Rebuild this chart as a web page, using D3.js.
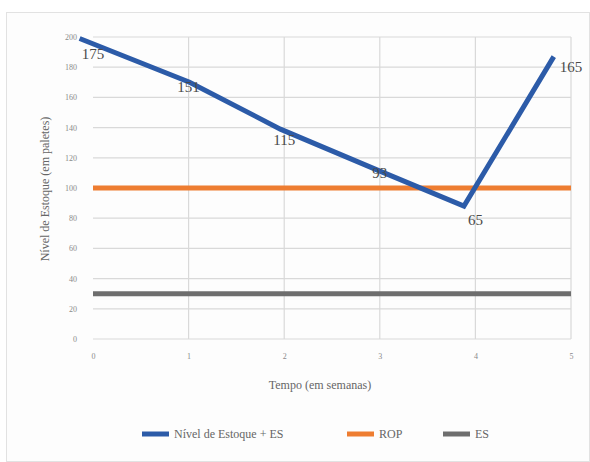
<!DOCTYPE html>
<html><head><meta charset="utf-8">
<script src="https://cdn.jsdelivr.net/npm/d3@7"></script>
<style>body{margin:0;background:#fff}svg{display:block}text{font-family:'Liberation Serif','Times New Roman',serif}</style>
</head><body>
<svg id="c" width="590" height="462"></svg>
<script>
// Data
const xValues = [-0.14, 1.01, 1.96, 2.97, 3.88, 4.82];
const estoqueES = [199, 170, 139, 112, 88, 187];
const dataLabels = ["175", "151", "115", "93", "65", "165"];
const labelX = [0, 1, 2, 3, 4, 5];
const labelY = [189, 167, 132, 110, 79, 180];
const ropValue = 100;
const esValue = 30;
const xTicks = [0, 1, 2, 3, 4, 5];
const yTicks = [0, 20, 40, 60, 80, 100, 120, 140, 160, 180, 200];
const seriesNames = ["Nível de Estoque + ES", "ROP", "ES"];
const colors = ["#2c5ba8", "#ee7d31", "#6e6e6e"];

const svg = d3.select("#c");
svg.append("rect").attr("x", 6.5).attr("y", 12.5).attr("width", 583).attr("height", 449)
  .attr("fill", "#fdfdfd").attr("stroke", "#e2e2e2");

const x = d3.scaleLinear().domain([0, 5]).range([93, 571]);
const y = d3.scaleLinear().domain([0, 200]).range([339, 37]);

const font = "'Liberation Serif', 'Times New Roman', serif";

// gridlines
const g = svg.append("g");
g.selectAll(".hg").data(yTicks).join("line")
  .attr("x1", x(0)).attr("x2", x(5)).attr("y1", d => y(d)).attr("y2", d => y(d))
  .attr("stroke", "#d9d9d9").attr("stroke-width", 1.2);
g.selectAll(".vg").data(xTicks.slice(1)).join("line")
  .attr("x1", d => x(d)).attr("x2", d => x(d)).attr("y1", y(0)).attr("y2", y(200))
  .attr("stroke", "#d9d9d9").attr("stroke-width", 1.2);

// axes
const yAxis = d3.axisLeft(y).tickValues(yTicks).tickFormat(d3.format("d")).tickSize(0).tickPadding(16);
const ya = svg.append("g").attr("transform", `translate(${x(0)},0)`).call(yAxis)
  .attr("font-family", font);
ya.select(".domain").remove();
ya.selectAll("text").attr("font-size", 8).attr("fill", "#8a8a8a");

const xAxis = d3.axisBottom(x).tickValues(xTicks).tickFormat(d3.format("d")).tickSize(0).tickPadding(14);
const xa = svg.append("g").attr("transform", `translate(0,${y(0)})`).call(xAxis)
  .attr("font-family", font);
xa.select(".domain").remove();
xa.selectAll("text").attr("font-size", 8).attr("fill", "#8a8a8a");

// horizontal series
svg.append("line").attr("x1", x(0)).attr("x2", x(5)).attr("y1", y(esValue)).attr("y2", y(esValue))
  .attr("stroke", colors[2]).attr("stroke-width", 5);
svg.append("line").attr("x1", x(0)).attr("x2", x(5)).attr("y1", y(ropValue)).attr("y2", y(ropValue))
  .attr("stroke", colors[1]).attr("stroke-width", 5);

// main line
const pts = xValues.map((v, i) => [v, estoqueES[i]]);
svg.append("path").datum(pts)
  .attr("d", d3.line().x(d => x(d[0])).y(d => y(d[1])))
  .attr("fill", "none").attr("stroke", colors[0]).attr("stroke-width", 5)
  .attr("stroke-linejoin", "miter");

// data labels
svg.selectAll(".dl").data(dataLabels).join("text")
  .attr("x", (d, i) => x(labelX[i])).attr("y", (d, i) => y(labelY[i]))
  .attr("text-anchor", "middle").attr("dominant-baseline", "central")
  .attr("font-size", 15).attr("fill", "#4a4a4a")
  .text(d => d);

// axis titles
svg.append("text").attr("x", 320).attr("y", 389).attr("text-anchor", "middle")
  .attr("font-size", 12).attr("fill", "#666").text("Tempo (em semanas)");
svg.append("text").attr("transform", "translate(49,189) rotate(-90)").attr("text-anchor", "middle")
  .attr("font-size", 12).attr("fill", "#666").text("Nível de Estoque (em paletes)");

// legend
const legX = [142, 347, 443];
const leg = svg.selectAll(".lg").data(seriesNames).join("g")
  .attr("transform", (d, i) => `translate(${legX[i]},434)`);
leg.append("line").attr("x1", 0).attr("x2", 27).attr("y1", 0).attr("y2", 0)
  .attr("stroke", (d, i) => colors[i]).attr("stroke-width", 5);
leg.append("text").attr("x", 32).attr("y", 0).attr("dominant-baseline", "central")
  .attr("font-size", 12).attr("fill", "#666").text(d => d);
</script>
</body></html>
